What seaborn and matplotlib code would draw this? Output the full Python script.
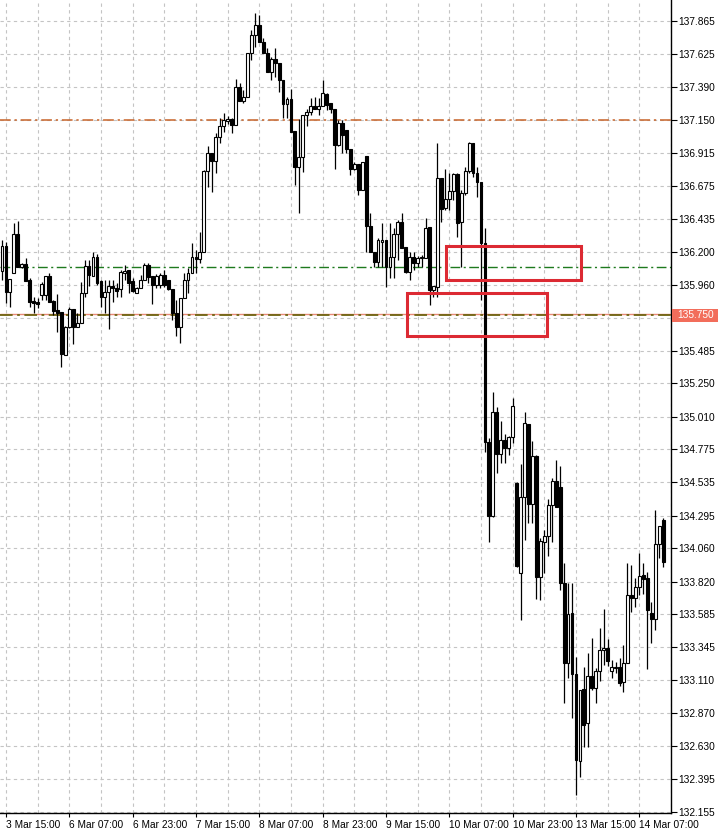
import numpy as np
import pandas as pd
import matplotlib
matplotlib.use("Agg")
import matplotlib.pyplot as plt
import matplotlib.transforms as mtransforms
from matplotlib.patches import Rectangle
import seaborn as sns

sns.set_theme(style="white")
plt.rcParams['font.family'] = ['Liberation Sans', 'DejaVu Sans']

# H1 candles, 3 Mar 14:00 .. 14 Mar 13:00
opens = [136.061, 136.241, 135.909, 136.047, 136.328, 136.090, 136.112, 135.996, 135.845, 135.837,
         135.888, 135.888, 136.025, 135.845, 135.780, 135.765, 135.455, 135.657, 135.787, 135.657,
         135.686, 135.902, 136.097, 136.025, 136.162, 135.989, 135.873, 135.909, 135.953, 135.938,
         135.931, 136.047, 136.068, 135.989, 135.902, 135.938, 135.996, 136.104, 136.025, 135.960,
         135.960, 136.032, 135.996, 135.931, 135.758, 135.657, 135.866, 135.996, 136.047, 136.162,
         136.148, 136.198, 136.783, 136.912, 136.855, 137.028, 137.107, 137.143, 137.158, 137.115,
         137.389, 137.288, 137.317, 137.634, 137.764, 137.836, 137.713, 137.634, 137.497, 137.591,
         137.562, 137.439, 137.266, 137.302, 137.071, 136.811, 136.884, 137.187, 137.208, 137.252,
         137.230, 137.252, 137.338, 137.273, 137.230, 136.970, 137.129, 137.078, 136.941, 136.797,
         136.833, 136.646, 136.891, 136.386, 136.198, 136.126, 136.270, 136.285, 136.090, 136.162,
         136.328, 136.415, 136.234, 136.054, 136.162, 136.119, 136.155, 136.155, 136.379, 135.924,
         135.946, 136.732, 136.516, 136.581, 136.638, 136.761, 136.415, 136.624, 136.783, 136.985,
         136.768, 136.703, 136.263, 134.827, 134.293, 135.044, 134.741, 134.842, 134.784, 134.863,
         134.531, 133.882, 134.430, 134.957, 134.380, 134.726, 133.853, 134.105, 134.149, 134.372,
         134.546, 134.502, 133.810, 133.232, 133.593, 133.153, 132.525, 133.045, 132.799, 133.139,
         133.052, 133.175, 133.326, 133.341, 133.175, 133.196, 133.204, 133.095, 133.232, 133.723,
         133.701, 133.781, 133.867, 133.846, 133.593, 133.550, 134.091, 134.264]
highs = [136.285, 136.270, 136.003, 136.407, 136.422, 136.119, 136.155, 136.010, 135.873, 135.866,
         135.982, 136.025, 136.047, 135.852, 135.895, 135.765, 135.664, 135.801, 135.787, 135.758,
         135.982, 136.140, 136.140, 136.198, 136.184, 135.996, 135.996, 135.996, 135.996, 135.974,
         136.068, 136.104, 136.068, 136.010, 135.946, 136.032, 136.119, 136.119, 136.025, 136.039,
         136.047, 136.068, 135.996, 135.931, 135.852, 135.866, 136.047, 136.083, 136.263, 136.213,
         136.342, 136.790, 136.963, 136.912, 137.057, 137.165, 137.201, 137.179, 137.165, 137.446,
         137.418, 137.367, 137.634, 137.800, 137.923, 137.908, 137.742, 137.670, 137.605, 137.670,
         137.562, 137.439, 137.317, 137.374, 137.071, 137.158, 137.187, 137.230, 137.309, 137.317,
         137.309, 137.439, 137.345, 137.273, 137.230, 137.151, 137.151, 137.078, 136.941, 136.848,
         136.833, 136.848, 136.891, 136.480, 136.198, 136.299, 136.407, 136.285, 136.407, 136.371,
         136.429, 136.480, 136.234, 136.198, 136.198, 136.169, 136.176, 136.443, 136.379, 135.953,
         136.985, 136.732, 136.797, 136.768, 136.768, 136.768, 136.646, 136.811, 136.992, 136.985,
         136.811, 136.703, 136.371, 134.856, 135.188, 135.080, 134.979, 134.885, 134.870, 135.145,
         134.538, 134.668, 135.044, 134.957, 134.834, 134.733, 134.134, 134.192, 134.416, 134.567,
         134.697, 134.654, 133.954, 133.810, 133.810, 133.276, 133.038, 133.204, 133.305, 133.413,
         133.196, 133.485, 133.622, 133.406, 133.254, 133.240, 133.268, 133.362, 133.954, 133.940,
         133.846, 134.026, 133.954, 133.889, 133.673, 134.336, 134.221, 134.279]
lows = [135.996, 135.830, 135.801, 136.047, 136.090, 136.083, 135.989, 135.801, 135.758, 135.794,
        135.852, 135.852, 135.837, 135.744, 135.621, 135.368, 135.455, 135.650, 135.534, 135.657,
        135.686, 135.873, 135.953, 136.025, 135.960, 135.801, 135.758, 135.643, 135.837, 135.873,
        135.873, 135.996, 135.902, 135.909, 135.902, 135.938, 135.996, 135.974, 135.823, 135.938,
        135.938, 135.946, 135.924, 135.707, 135.592, 135.541, 135.866, 135.902, 136.047, 136.047,
        136.119, 136.198, 136.667, 136.631, 136.768, 136.985, 137.064, 137.122, 137.057, 137.115,
        137.288, 137.273, 137.317, 137.584, 137.677, 137.713, 137.634, 137.497, 137.439, 137.461,
        137.353, 137.165, 137.165, 137.064, 136.682, 136.480, 136.775, 137.107, 137.187, 137.230,
        137.187, 137.252, 137.223, 137.201, 136.797, 136.963, 136.912, 136.912, 136.754, 136.790,
        136.609, 136.646, 136.198, 136.198, 136.090, 136.090, 136.090, 135.946, 136.010, 136.010,
        136.140, 136.227, 136.047, 135.996, 136.068, 136.090, 136.090, 136.155, 135.816, 135.873,
        135.873, 136.415, 136.501, 136.501, 136.573, 136.306, 136.090, 136.609, 136.768, 136.739,
        136.595, 135.852, 134.755, 134.105, 134.286, 134.603, 134.676, 134.676, 134.733, 134.820,
        133.925, 133.543, 134.120, 134.243, 134.243, 133.694, 133.687, 133.882, 134.004, 134.105,
        134.358, 133.759, 132.944, 133.124, 132.836, 132.280, 132.410, 132.626, 132.626, 133.038,
        132.944, 133.103, 133.218, 133.211, 133.124, 133.160, 133.066, 133.023, 133.232, 133.600,
        133.636, 133.723, 133.730, 133.189, 133.377, 133.471, 133.990, 133.925]
closes = [136.241, 135.909, 136.003, 136.328, 136.090, 136.112, 135.989, 135.837, 135.830, 135.823,
          135.967, 136.025, 135.837, 135.772, 135.758, 135.462, 135.657, 135.787, 135.657, 135.686,
          135.902, 136.097, 136.032, 136.162, 135.974, 135.873, 135.909, 135.953, 135.938, 135.917,
          136.054, 136.061, 135.974, 135.917, 135.938, 135.996, 136.104, 136.018, 135.960, 136.025,
          136.032, 135.960, 135.931, 135.758, 135.657, 135.866, 135.996, 136.047, 136.162, 136.148,
          136.198, 136.783, 136.912, 136.855, 137.028, 137.107, 137.151, 137.158, 137.115, 137.389,
          137.288, 137.317, 137.634, 137.764, 137.836, 137.713, 137.634, 137.497, 137.591, 137.562,
          137.439, 137.266, 137.302, 137.064, 136.811, 136.884, 137.187, 137.208, 137.252, 137.230,
          137.252, 137.345, 137.259, 137.230, 136.970, 137.129, 137.042, 136.941, 136.797, 136.833,
          136.646, 136.848, 136.386, 136.198, 136.126, 136.285, 136.285, 136.090, 136.162, 136.328,
          136.415, 136.227, 136.054, 136.162, 136.119, 136.155, 136.162, 136.371, 135.924, 135.953,
          136.732, 136.508, 136.581, 136.638, 136.761, 136.407, 136.624, 136.783, 136.985, 136.768,
          136.703, 136.263, 134.827, 134.293, 135.044, 134.741, 134.842, 134.784, 134.863, 135.087,
          133.932, 134.430, 134.964, 134.380, 134.726, 133.853, 134.113, 134.149, 134.372, 134.546,
          134.358, 133.810, 133.232, 133.586, 133.153, 132.532, 133.038, 132.785, 133.139, 133.052,
          133.175, 133.326, 133.341, 133.247, 133.204, 133.204, 133.088, 133.232, 133.723, 133.701,
          133.781, 133.860, 133.839, 133.615, 133.550, 134.091, 134.221, 133.961]

time_labels = ['3 Mar 15:00', '6 Mar 07:00', '6 Mar 23:00', '7 Mar 15:00', '8 Mar 07:00',
               '8 Mar 23:00', '9 Mar 15:00', '10 Mar 07:00', '10 Mar 23:00', '13 Mar 15:00',
               '14 Mar 07:00']
label_bars = [1, 17, 33, 49, 65, 81, 97, 113, 129, 145, 161]

price_ticks = [132.155, 132.395, 132.630, 132.870, 133.110, 133.345, 133.585, 133.820, 134.060,
               134.295, 134.535, 134.775, 135.010, 135.250, 135.485, 135.725, 135.960, 136.200,
               136.435, 136.675, 136.915, 137.150, 137.390, 137.625, 137.865]

# horizontal levels
level_upper = 137.147
level_green = 136.092
bid_price = 135.750

# red boxes drawn on the chart: (bar_start, bar_end, price_low, price_high)
box_upper = (112.25, 146.25, 135.996, 136.241)
box_lower = (102.25, 137.75, 135.592, 135.902)

df = pd.DataFrame({'open': opens, 'high': highs, 'low': lows, 'close': closes})
df['bar'] = np.arange(len(df))
df['up'] = df['close'] >= df['open']

fig = plt.figure(figsize=(7.18, 8.35), dpi=100)
ax = fig.add_axes([0, 22 / 835, 671 / 718, 813 / 835])

# wicks
ax.vlines(df['bar'], df['low'], df['high'], color='black', linewidth=0.9, zorder=3)
# bodies
body_h = (df['close'] - df['open']).abs().clip(lower=0.003)
ax.bar(df['bar'], body_h, bottom=df[['open', 'close']].min(axis=1), width=0.72,
       color=np.where(df['up'], 'white', 'black'), edgecolor='black', linewidth=0.8, zorder=4)

# level lines
dashdot = (0, (7, 2.5, 1.5, 2.5))
ax.axhline(level_upper, color='#c8642a', linewidth=1.1, linestyle=dashdot, zorder=2)
ax.axhline(level_green, color='#1e7a1e', linewidth=1.0, linestyle=dashdot, zorder=2)
ax.axhline(bid_price, color='#e98a78', linewidth=1.0, zorder=2)
ax.axhline(bid_price - 0.004, color='#6e6410', linewidth=1.3, linestyle=dashdot, zorder=2)

for (x0, x1, y0, y1) in (box_upper, box_lower):
    ax.add_patch(Rectangle((x0, y0), x1 - x0, y1 - y0, fill=False, edgecolor='#dc2a33',
                           linewidth=2.2, zorder=6))

ax.set_xlim(-0.5, 167.25)
ax.set_ylim(132.150, 138.0165)

# axes / grid
ax.yaxis.tick_right()
ax.set_yticks(price_ticks)
ax.set_yticklabels([f'{p:.3f}' for p in price_ticks])
ax.set_xticks(label_bars)
ax.set_xticklabels(time_labels, ha='left')
ax.set_xticks([b + 8 for b in label_bars], minor=True)
ax.tick_params(axis='y', which='both', right=True, left=False, length=4, width=0.8, pad=1.5,
               labelsize=7.3, colors='black', direction='out')
ax.tick_params(axis='x', which='major', bottom=True, length=3, width=0.8, pad=2,
               labelsize=7.3, colors='black', direction='out')
ax.tick_params(axis='x', which='minor', bottom=False, length=0)
ax.grid(True, which='both', color='#c4c4c4', linestyle=(0, (3, 3)), linewidth=0.8, zorder=0)
ax.set_axisbelow(True)
for side in ('left', 'top'):
    ax.spines[side].set_visible(False)
for side in ('right', 'bottom'):
    ax.spines[side].set_visible(True)
    ax.spines[side].set_color('black')
    ax.spines[side].set_linewidth(1.0)

# bid price tag covering the axis label underneath
blend = mtransforms.blended_transform_factory(ax.transAxes, ax.transData)
tag_h = 0.094
ax.add_patch(Rectangle((1.0015, bid_price - tag_h / 2 - 0.008), 0.075, tag_h, transform=blend,
                       facecolor='#f26d5b', edgecolor='none', clip_on=False, zorder=9))
ax.text(1.009, bid_price - 0.01, '135.750', transform=blend, ha='left', va='center',
        color='white', fontsize=7.3, clip_on=False, zorder=10)

fig.savefig('out.png', dpi=100, facecolor='white')
